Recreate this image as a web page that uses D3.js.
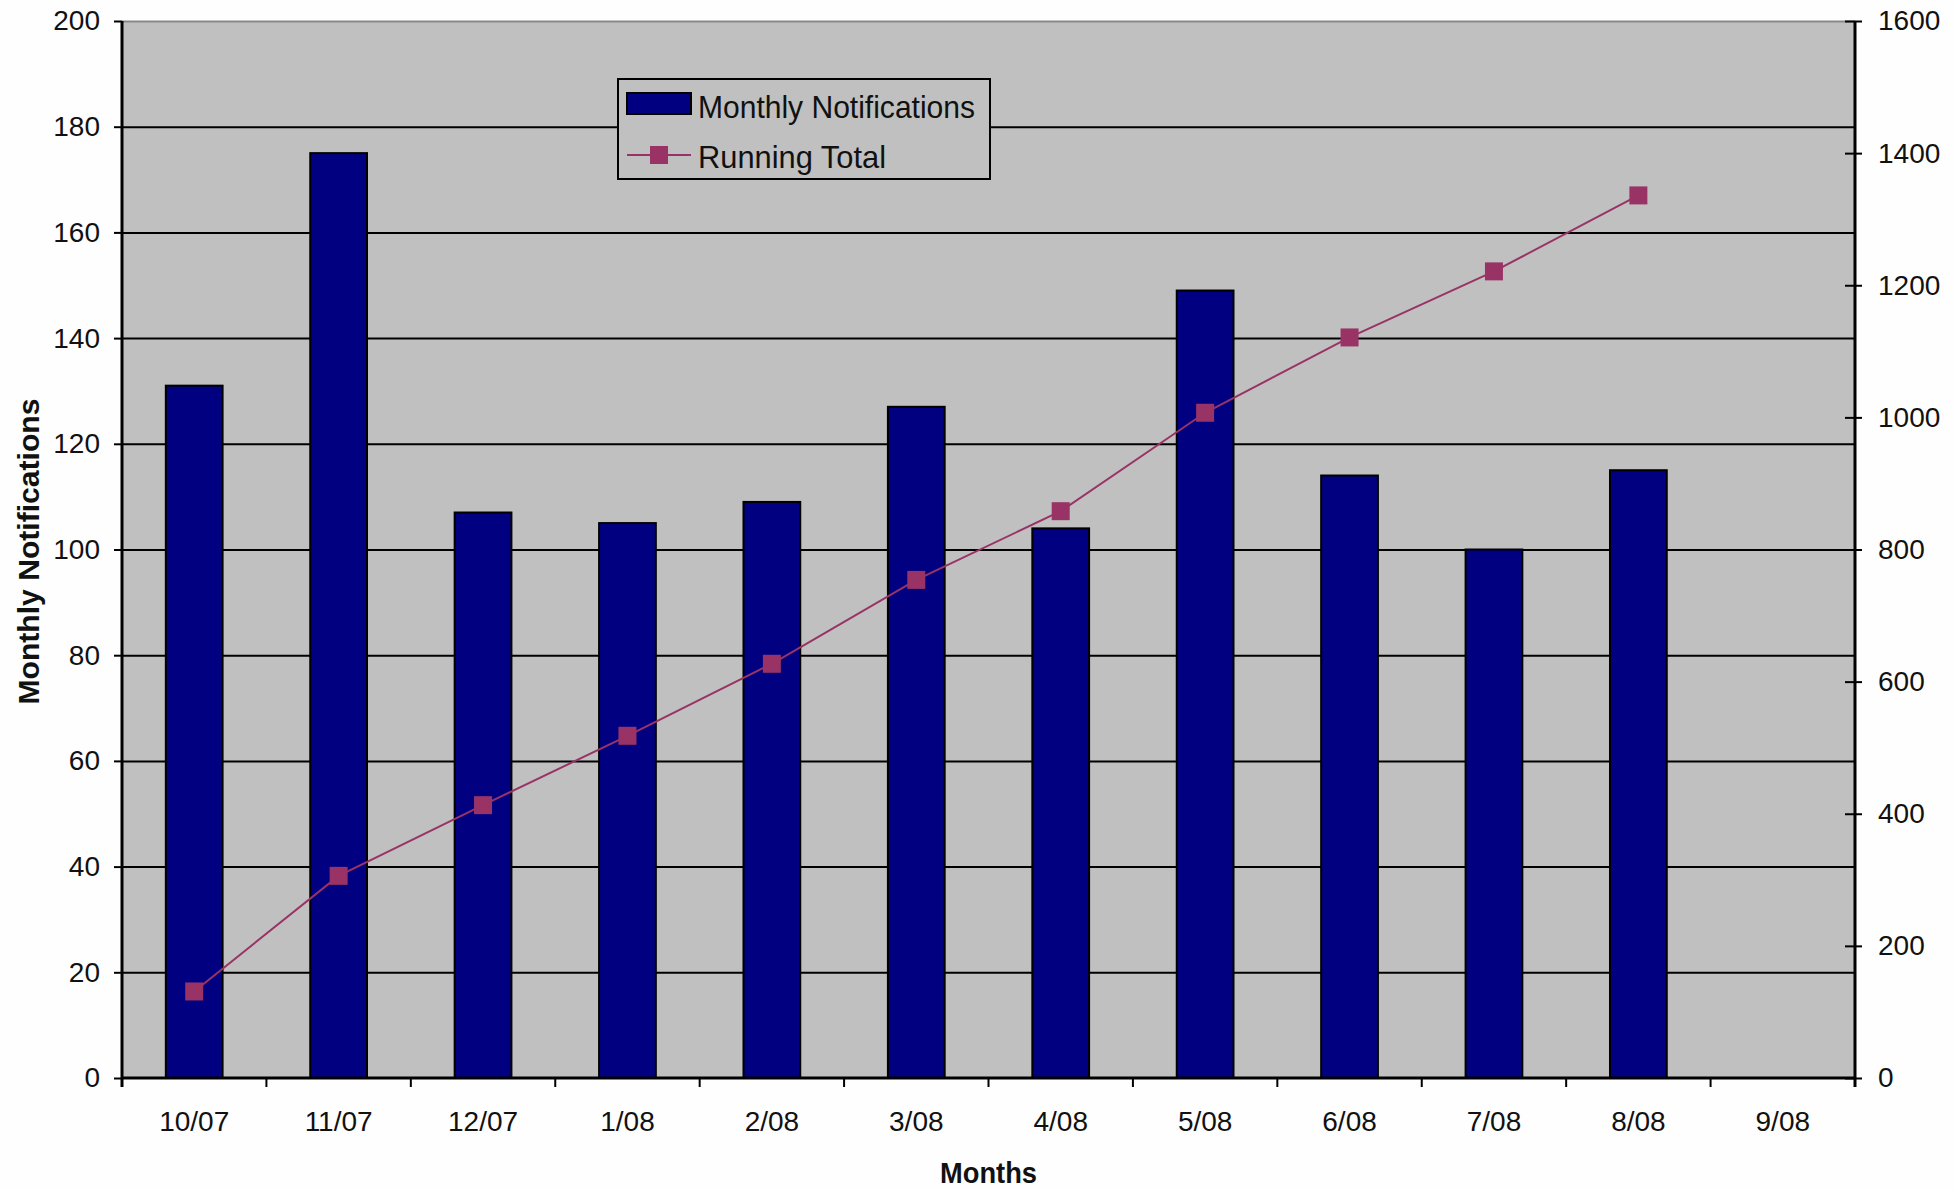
<!DOCTYPE html>
<html>
<head>
<meta charset="utf-8">
<script src="https://cdn.jsdelivr.net/npm/d3@7"></script>
<style>
	body { margin: 0; background: #fefefe; }
	svg { display: block; }
	text { font-family: "Liberation Sans", Arial, sans-serif; fill: #111; }
	.domain { display: none; }
</style>
</head>
<body>
<svg id="mysvg" width="1955" height="1188"></svg>
<script>
// values
var months = ["10/07", "11/07", "12/07", "1/08", "2/08", "3/08", "4/08", "5/08", "6/08", "7/08", "8/08", "9/08"]
var monthly = [131, 175, 107, 105, 109, 127, 104, 149, 114, 100, 115, null]
var runningTotal = [131, 306, 413, 518, 627, 754, 858, 1007, 1121, 1221, 1336, null]
var leftTicks = [0, 20, 40, 60, 80, 100, 120, 140, 160, 180, 200]
var rightTicks = [0, 200, 400, 600, 800, 1000, 1200, 1400, 1600]
var seriesNames = ["Monthly Notifications", "Running Total"]

var svg = d3.select("#mysvg")
var pLeft = 122, pRight = 1855, pTop = 21, pBottom = 1078
var barColor = "#000080"
var lineColor = "#993366"

var x = d3.scaleBand().domain(months).range([pLeft, pRight]).padding(0)
var yL = d3.scaleLinear().domain([0, 200]).range([pBottom, pTop])
var yR = d3.scaleLinear().domain([0, 1600]).range([pBottom, pTop])
var barW = x.bandwidth() * 0.393

// plot background
svg.append("rect").attr("x", pLeft).attr("y", pTop)
	.attr("width", pRight - pLeft).attr("height", pBottom - pTop)
	.attr("fill", "#c0c0c0")

// gridlines
var grid = svg.append("g").attr("transform", "translate(" + pLeft + ",0)")
	.call(d3.axisLeft(yL).tickValues(leftTicks.slice(1)).tickSize(-(pRight - pLeft)).tickFormat(""))
grid.selectAll(".tick line").attr("stroke", function(d) { return d == 200 ? "#888" : "#000" })
	.attr("stroke-width", 2)

// bars
svg.selectAll(".bar").data(months.filter(function(m, i) { return monthly[i] !== null }))
	.enter().append("rect").attr("class", "bar")
	.attr("x", function(m) { return x(m) + (x.bandwidth() - barW) / 2 })
	.attr("y", function(m) { return yL(monthly[months.indexOf(m)]) })
	.attr("width", barW)
	.attr("height", function(m) { return pBottom - yL(monthly[months.indexOf(m)]) })
	.attr("fill", barColor).attr("stroke", "#000").attr("stroke-width", 2)

// running total line
var pts = []
for (var i = 0; i < months.length; i++) {
	if (runningTotal[i] !== null) pts.push({ m: months[i], v: runningTotal[i] })
}
var line = d3.line().x(function(d) { return x(d.m) + x.bandwidth() / 2 }).y(function(d) { return yR(d.v) })
svg.append("path").datum(pts).attr("d", line)
	.attr("fill", "none").attr("stroke", lineColor).attr("stroke-width", 2)
svg.selectAll(".marker").data(pts).enter().append("rect").attr("class", "marker")
	.attr("x", function(d) { return x(d.m) + x.bandwidth() / 2 - 9 })
	.attr("y", function(d) { return yR(d.v) - 9 })
	.attr("width", 18).attr("height", 18)
	.attr("fill", lineColor)

// left axis
var gl = svg.append("g").attr("transform", "translate(" + pLeft + ",0)")
	.call(d3.axisLeft(yL).tickValues(leftTicks).tickSize(8).tickPadding(14).tickFormat(d3.format("d")))
gl.selectAll(".tick line").attr("stroke", "#000").attr("stroke-width", 2)
gl.selectAll(".tick text").attr("font-size", 28).attr("font-family", null)
svg.append("line").attr("x1", pLeft).attr("x2", pLeft).attr("y1", pTop).attr("y2", pBottom + 9)
	.attr("stroke", "#000").attr("stroke-width", 3)

// right axis
var gr = svg.append("g").attr("transform", "translate(" + pRight + ",0)")
	.call(d3.axisRight(yR).tickValues(rightTicks).tickSize(7).tickPadding(16).tickFormat(d3.format("d")))
gr.selectAll(".tick line").attr("x1", -10).attr("stroke", "#000").attr("stroke-width", 2)
gr.selectAll(".tick text").attr("font-size", 28).attr("font-family", null)
svg.append("line").attr("x1", pRight).attr("x2", pRight).attr("y1", pTop).attr("y2", pBottom + 9)
	.attr("stroke", "#000").attr("stroke-width", 3)

// bottom axis
svg.append("line").attr("x1", pLeft).attr("x2", pRight).attr("y1", pBottom).attr("y2", pBottom)
	.attr("stroke", "#000").attr("stroke-width", 3)
var gx = svg.append("g").attr("transform", "translate(0," + pBottom + ")")
	.call(d3.axisBottom(x).tickSize(0).tickPadding(33))
gx.selectAll(".tick text").attr("font-size", 28).attr("font-family", null)
svg.selectAll(".xtick").data(months.slice(1)).enter().append("line").attr("class", "xtick")
	.attr("x1", function(m) { return x(m) }).attr("x2", function(m) { return x(m) })
	.attr("y1", pBottom).attr("y2", pBottom + 9)
	.attr("stroke", "#000").attr("stroke-width", 2)

// axis titles
svg.append("text").attr("x", (pLeft + pRight) / 2).attr("y", 1183)
	.attr("text-anchor", "middle").attr("font-size", 29).attr("font-weight", "bold")
	.attr("textLength", 97).attr("lengthAdjust", "spacingAndGlyphs")
	.text("Months")
svg.append("text").attr("transform", "translate(39," + ((pTop + pBottom) / 2 + 2) + ") rotate(-90)")
	.attr("text-anchor", "middle").attr("font-size", 29).attr("font-weight", "bold")
	.attr("textLength", 306).attr("lengthAdjust", "spacingAndGlyphs")
	.text("Monthly Notifications")

// legend
var lg = svg.append("g")
lg.append("rect").attr("x", 618).attr("y", 79).attr("width", 372).attr("height", 100)
	.attr("fill", "#c0c0c0").attr("stroke", "#000").attr("stroke-width", 2)
lg.append("rect").attr("x", 627).attr("y", 93).attr("width", 64).attr("height", 21)
	.attr("fill", barColor).attr("stroke", "#000").attr("stroke-width", 2)
lg.append("line").attr("x1", 627).attr("x2", 691).attr("y1", 155).attr("y2", 155)
	.attr("stroke", lineColor).attr("stroke-width", 2)
lg.append("rect").attr("x", 650).attr("y", 146).attr("width", 18).attr("height", 18)
	.attr("fill", lineColor)
var lw = [277, 188]
lg.selectAll(".ltext").data(seriesNames).enter().append("text").attr("class", "ltext")
	.attr("x", 698).attr("y", function(d, i) { return 118 + i * 50 })
	.attr("font-size", 32)
	.attr("textLength", function(d, i) { return lw[i] }).attr("lengthAdjust", "spacingAndGlyphs")
	.text(function(d) { return d })
</script>
</body>
</html>
